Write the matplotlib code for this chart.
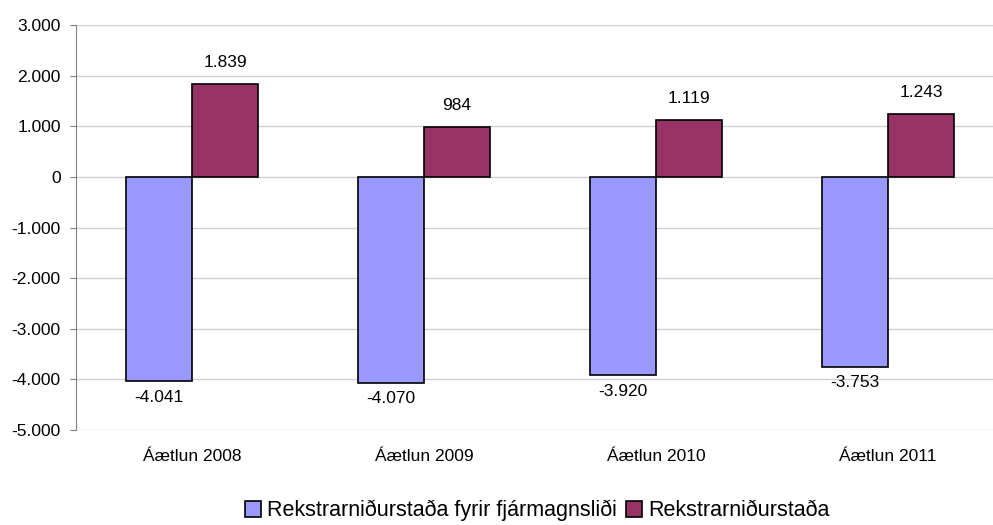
import numpy as np
import matplotlib
matplotlib.use("Agg")
import matplotlib.pyplot as plt

plt.rcParams['font.family'] = ['Liberation Sans', 'DejaVu Sans']

categories = ['Áætlun 2008', 'Áætlun 2009', 'Áætlun 2010', 'Áætlun 2011']
fyrir = [-4041, -4070, -3920, -3753]
nidurstada = [1839, 984, 1119, 1243]
labels = ['Rekstrarniðurstaða fyrir fjármagnsliði', 'Rekstrarniðurstaða']
yticks = [3000, 2000, 1000, 0, -1000, -2000, -3000, -4000, -5000]

def fmt(v):
    s = '{:,}'.format(abs(v)).replace(',', '.')
    return '-' + s if v < 0 else s

fig = plt.figure(figsize=(9.93, 5.25), dpi=100)
ax = fig.add_axes([0.0765, 0.181, 0.9345, 0.771])

x = np.arange(len(categories))
w = 0.285
b1 = ax.bar(x - w/2, fyrir, w, color='#9999FF', edgecolor='black', linewidth=1.2, label=labels[0], zorder=3)
b2 = ax.bar(x + w/2, nidurstada, w, color='#993366', edgecolor='black', linewidth=1.2, label=labels[1], zorder=3)

for xi, v in zip(x, fyrir):
    ax.annotate(fmt(v), (xi - w/2, v), xytext=(0, -6), textcoords='offset points',
                ha='center', va='top', fontsize=12.5)
for xi, v in zip(x, nidurstada):
    ax.annotate(fmt(v), (xi + w/2, v), xytext=(0, 10), textcoords='offset points',
                ha='center', va='bottom', fontsize=12.5)

ax.set_xlim(-0.5, len(categories) - 0.5)
ax.set_ylim(-5000, 3000)
ax.set_yticks(yticks)
ax.set_yticklabels([fmt(v) for v in yticks], fontsize=12.5)
ax.set_xticks(x)
ax.set_xticklabels(categories, fontsize=12.5)
ax.tick_params(axis='x', length=0, pad=14)
ax.tick_params(axis='y', length=4, direction='out', color='#808080', pad=7)
ax.grid(axis='y', color='#d0d0d0', linewidth=1, zorder=0)
for s in ['top', 'right', 'bottom']:
    ax.spines[s].set_visible(False)
ax.spines['left'].set_color('#808080')

fig.legend(handles=[b1, b2], loc='lower center', bbox_to_anchor=(0.541, -0.03), ncol=2,
           frameon=False, fontsize=15.5, handlelength=0.75, handleheight=0.75,
           handletextpad=0.3, columnspacing=0.4)

fig.savefig('out.png', dpi=100)
